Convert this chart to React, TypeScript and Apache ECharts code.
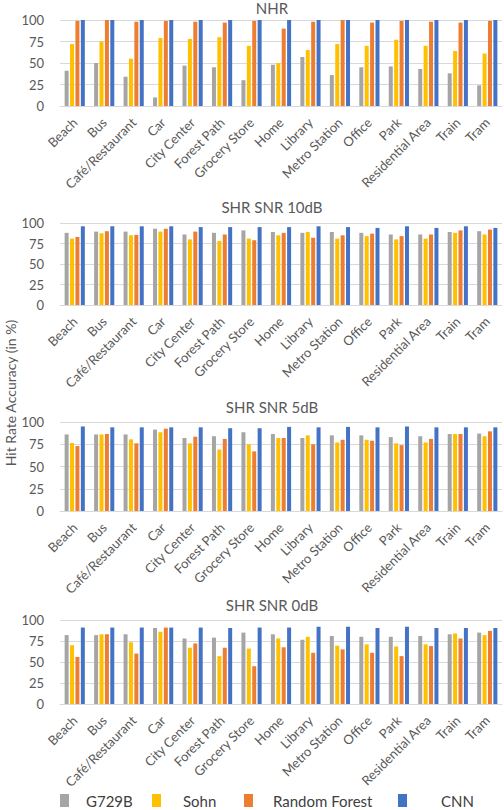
import React, { useEffect, useRef } from "react";
import * as echarts from "echarts";

const categories = [
  "Beach", "Bus", "Café/Restaurant", "Car", "City Center", "Forest Path", "Grocery Store",
  "Home", "Library", "Metro Station", "Office", "Park", "Residential Area", "Train", "Tram",
];
const seriesNames = ["G729B", "Sohn", "Random Forest", "CNN"];
const panelTitles = ["NHR", "SHR SNR 10dB", "SHR SNR 5dB", "SHR SNR 0dB"];
const yTicks = [0, 25, 50, 75, 100];

// NHR
const nhrG729B = [41, 50, 34, 10, 47, 45, 30, 48, 57, 36, 45, 46, 43, 38, 24];
const nhrSohn = [72, 75, 55, 79, 78, 80, 70, 50, 65, 72, 70, 77, 70, 64, 61];
const nhrRF = [99, 100, 98, 99, 98, 97, 99, 90, 98, 100, 97, 99, 98, 97, 99];
const nhrCNN = [100, 100, 100, 100, 100, 100, 100, 100, 100, 100, 100, 100, 100, 100, 100];

// SHR SNR 10dB
const snr10G729B = [88, 89.5, 89.5, 93, 86, 88, 91, 89, 88, 89, 88, 86, 86, 89, 90];
const snr10Sohn = [81, 87.5, 85, 89.5, 80, 78, 81, 85, 89, 81, 84, 80, 81, 88, 86];
const snr10RF = [83, 90, 85.5, 93, 89.5, 86, 79, 88, 82, 85, 87, 84, 86, 91, 92];
const snr10CNN = [96, 96, 96, 96, 95, 95, 95, 95, 96, 95, 94, 96, 94, 96, 94];

// SHR SNR 5dB
const snr5G729B = [86, 86, 86, 91.5, 82, 84, 88.5, 86.5, 82, 85, 85, 83, 84, 86.5, 87];
const snr5Sohn = [76.5, 86, 80.5, 88.5, 76, 69, 75, 82, 85, 77, 80, 76, 77, 86.5, 84];
const snr5RF = [73, 86.5, 76, 92.5, 83.5, 81, 67, 82, 75, 80, 79, 74, 81, 86.5, 89.5];
const snr5CNN = [95, 94, 94, 94, 94, 93, 93, 94.5, 94, 94.5, 94, 95, 94, 94, 94];

// SHR SNR 0dB
const snr0G729B = [82, 82, 83, 90.5, 78, 79, 85, 83, 76.5, 81, 80, 80, 81, 83, 85];
const snr0Sohn = [70, 83, 73.5, 86, 67, 57, 66, 78, 80, 69.5, 71, 68.5, 71, 84, 82];
const snr0RF = [56, 83, 60, 91, 72, 67, 45, 67.5, 61, 65, 61, 57, 69, 78, 87];
const snr0CNN = [91, 91, 91, 91, 91, 90.5, 91, 91, 92, 92, 90.5, 92, 90.5, 90.5, 90.5];

const panelData = [
  [nhrG729B, nhrSohn, nhrRF, nhrCNN],
  [snr10G729B, snr10Sohn, snr10RF, snr10CNN],
  [snr5G729B, snr5Sohn, snr5RF, snr5CNN],
  [snr0G729B, snr0Sohn, snr0RF, snr0CNN],
];

const COLORS = ["#A5A5A5", "#FFC000", "#ED7D31", "#4472C4"];
const TEXT = "#595959";
const FONT = "Lato, 'Open Sans', sans-serif";

const gridTops = [20, 223, 422, 620];
const gridHeights = [86, 82, 89, 84];
const titleTops = [0, 199, 399, 597];
const legendLefts = [60, 152, 244, 398];
const legendTextPad = [12, 17, 15, 29];

export default function App() {
  const ref = useRef<HTMLDivElement>(null);

  useEffect(() => {
    if (!ref.current) return;
    const chart = echarts.init(ref.current, undefined, { renderer: "svg" });

    const grids = gridTops.map((top, i) => ({
      left: 60,
      right: 2,
      top,
      height: gridHeights[i],
      containLabel: false,
    }));

    const xAxes = panelTitles.map((_, i) => ({
      type: "category",
      gridIndex: i,
      data: categories,
      axisLine: { show: true, lineStyle: { color: "#D9D9D9", width: 1 } },
      axisTick: { show: false },
      axisLabel: {
        rotate: 45,
        interval: 0,
        color: TEXT,
        fontSize: 13,
        fontFamily: FONT,
        margin: 14,
      },
    }));

    const yAxes = panelTitles.map((_, i) => ({
      type: "value",
      gridIndex: i,
      min: yTicks[0],
      max: yTicks[yTicks.length - 1],
      interval: 25,
      axisLine: { show: false },
      axisTick: { show: false },
      splitLine: { show: true, lineStyle: { color: "#D9D9D9", width: 1 } },
      axisLabel: { color: TEXT, fontSize: 13, fontFamily: FONT, margin: 16 },
    }));

    const series: any[] = [];
    panelData.forEach((panel, pi) => {
      panel.forEach((values, si) => {
        series.push({
          type: "bar",
          name: seriesNames[si],
          xAxisIndex: pi,
          yAxisIndex: pi,
          data: values,
          barWidth: 4,
          barGap: "35%",
          itemStyle: { color: COLORS[si] },
        });
      });
    });

    const titles = panelTitles.map((t, i) => ({
      text: t,
      left: 272,
      top: titleTops[i],
      textAlign: "center",
      padding: 0,
      textStyle: { color: TEXT, fontSize: 15, fontWeight: "normal", fontFamily: FONT },
    }));

    const legends = seriesNames.map((n, i) => ({
      data: [n],
      left: legendLefts[i],
      top: 793,
      padding: 0,
      icon: "rect",
      itemWidth: 9,
      itemHeight: 13,
      selectedMode: false,
      textStyle: {
        color: "#404040",
        fontSize: 15,
        lineHeight: 15,
        fontFamily: FONT,
        padding: [0, 0, 0, legendTextPad[i]],
      },
    }));

    chart.setOption({
      animation: false,
      backgroundColor: "#FFFFFF",
      title: titles,
      grid: grids,
      xAxis: xAxes,
      yAxis: yAxes,
      legend: legends,
      series,
      graphic: [
        {
          type: "text",
          x: 3,
          y: 393,
          rotation: Math.PI / 2,
          style: {
            text: "Hit Rate Accuracy (in %)",
            fill: TEXT,
            fontSize: 14,
            fontFamily: FONT,
            align: "center",
            verticalAlign: "top",
          },
        },
      ],
    } as any);

    return () => chart.dispose();
  }, []);

  return (
    <div
      ref={ref}
      style={{ position: "fixed", left: 0, top: 0, width: 504, height: 810, background: "#fff" }}
    />
  );
}
